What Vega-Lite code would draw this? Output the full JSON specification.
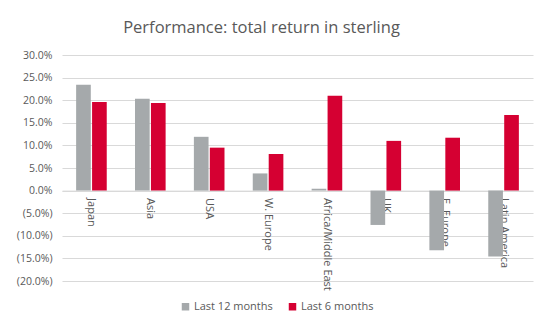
{
  "$schema": "https://vega.github.io/schema/vega-lite/v6.json",
  "autosize": {"type": "none"},
  "width": 471,
  "height": 226,
  "padding": {"left": 62, "top": 55, "right": 17, "bottom": 49},
  "background": "white",
  "config": {
    "view": {"stroke": null},
    "font": "Open Sans",
    "axis": {"labelFont": "Open Sans", "labelColor": "#595959", "labelFontSize": 10.5},
    "legend": {"labelFont": "Open Sans", "labelColor": "#595959", "labelFontSize": 11}
  },
  "title": {
    "text": "Performance: total return in sterling",
    "fontSize": 16.5,
    "fontWeight": "normal",
    "color": "#595959",
    "anchor": "middle",
    "dx": -36,
    "offset": 14
  },
  "data": {
    "values": [
      {"region": "Japan", "period": "Last 12 months", "value": 23.4},
      {"region": "Japan", "period": "Last 6 months", "value": 19.6},
      {"region": "Asia", "period": "Last 12 months", "value": 20.3},
      {"region": "Asia", "period": "Last 6 months", "value": 19.4},
      {"region": "USA", "period": "Last 12 months", "value": 11.9},
      {"region": "USA", "period": "Last 6 months", "value": 9.5},
      {"region": "W. Europe", "period": "Last 12 months", "value": 3.8},
      {"region": "W. Europe", "period": "Last 6 months", "value": 8.1},
      {"region": "Africa/Middle East", "period": "Last 12 months", "value": 0.4},
      {"region": "Africa/Middle East", "period": "Last 6 months", "value": 21.0},
      {"region": "UK", "period": "Last 12 months", "value": -7.6},
      {"region": "UK", "period": "Last 6 months", "value": 11.0},
      {"region": "E. Europe", "period": "Last 12 months", "value": -13.2},
      {"region": "E. Europe", "period": "Last 6 months", "value": 11.7},
      {"region": "Latin America", "period": "Last 12 months", "value": -14.6},
      {"region": "Latin America", "period": "Last 6 months", "value": 16.7}
    ]
  },
  "mark": {"type": "bar"},
  "encoding": {
    "x": {
      "field": "region",
      "type": "nominal",
      "sort": null,
      "scale": {"paddingInner": 0.48, "paddingOuter": 0.24},
      "axis": {
        "title": null,
        "offset": -90.4,
        "labelAngle": 90,
        "labelAlign": "left",
        "labelBaseline": "middle",
        "labelPadding": 7,
        "ticks": false,
        "domainColor": "#D9D9D9",
        "labelFontSize": 11
      }
    },
    "xOffset": {
      "field": "period",
      "type": "nominal",
      "sort": ["Last 12 months", "Last 6 months"],
      "scale": {"paddingInner": 0.08}
    },
    "y": {
      "field": "value",
      "type": "quantitative",
      "scale": {"domain": [-20, 30], "nice": false, "zero": false},
      "axis": {
        "title": null,
        "values": [-20, -15, -10, -5, 0, 5, 10, 15, 20, 25, 30],
        "domain": false,
        "ticks": false,
        "gridColor": "#D9D9D9",
        "labelPadding": 10,
        "labelExpr": "datum.value < 0 ? '(' + format(-datum.value, '.1f') + '%)' : format(datum.value, '.1f') + '%'"
      }
    },
    "color": {
      "field": "period",
      "type": "nominal",
      "sort": ["Last 12 months", "Last 6 months"],
      "scale": {"domain": ["Last 12 months", "Last 6 months"], "range": ["#A5A9AB", "#D50032"]},
      "legend": {
        "title": null,
        "orient": "none",
        "direction": "horizontal",
        "legendX": 118,
        "legendY": 246,
        "symbolType": "square",
        "symbolSize": 56,
        "symbolStrokeWidth": 0,
        "columnPadding": 14,
        "labelOffset": 3
      }
    }
  }
}
